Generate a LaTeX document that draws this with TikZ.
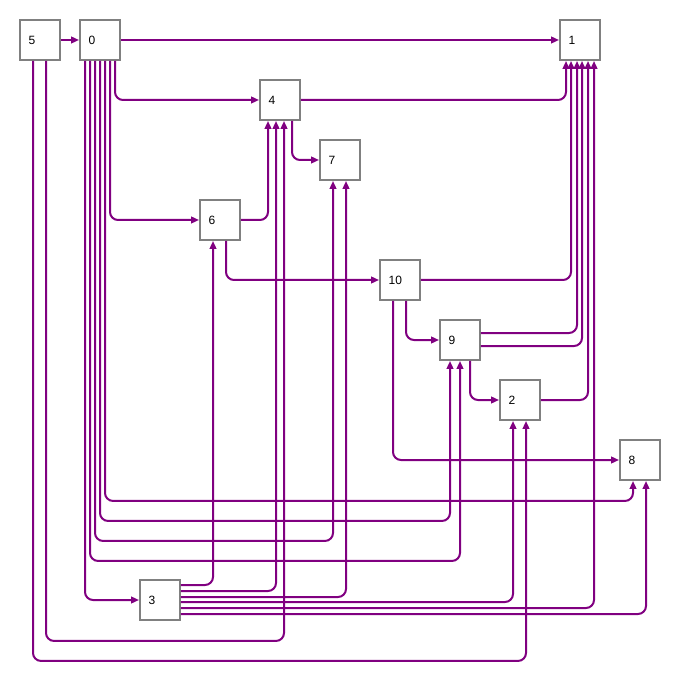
\documentclass[tikz,border=0pt]{standalone}
\usepackage{fontspec}
\setmainfont{Liberation Sans}
\usetikzlibrary{positioning, arrows.meta}
\definecolor{edgepurple}{RGB}{128,0,128}

\begin{document}
\begin{tikzpicture}[
        x=0.75pt, y=-0.75pt,
        >={Triangle[length=6pt, width=5pt]},
        box/.style={
            draw=gray,
            fill=white,
            line width=1.4pt,
            minimum height=30pt,
            text width=17pt,
            inner xsep=6.5pt,
            align=left,
            font=\fontsize{9}{10}\selectfont
        },
        edge/.style={
            ->,
            draw=edgepurple,
            line width=1.5pt,
            rounded corners=6pt
        }
    ]
        \useasboundingbox (0,0) rectangle (680,680);

        % Nodes
        \node[box] (n5) at (40,40) {5};
        \node[box] (n0) at (100,40) {0};
        \node[box] (n1) at (580,40) {1};
        \node[box] (n4) at (280,100) {4};
        \node[box] (n7) at (340,160) {7};
        \node[box] (n6) at (220,220) {6};
        \node[box] (n10) at (400,280) {10};
        \node[box] (n9) at (460,340) {9};
        \node[box] (n2) at (520,400) {2};
        \node[box] (n8) at (640,460) {8};
        \node[box] (n3) at (160,600) {3};

        % Edges from 5 and 0
        \draw[edge] (n5) -- (n0);
        \draw[edge] (n0) -- (n1);
        \draw[edge] ([shift={(15,0)}]n0.south) |- (n4);
        \draw[edge] ([shift={(10,0)}]n0.south) |- (n6);
        \draw[edge] ([shift={(5,0)}]n0.south) -- ++(0,440) -| ([shift={(-7,0)}]n8.south);
        \draw[edge] (n0.south) -- ++(0,460) -| ([shift={(-10,0)}]n9.south);
        \draw[edge] ([shift={(-5,0)}]n0.south) -- ++(0,480) -| ([shift={(-7,0)}]n7.south);
        \draw[edge] ([shift={(-10,0)}]n0.south) -- ++(0,500) -| (n9.south);
        \draw[edge] ([shift={(-15,0)}]n0.south) |- (n3);
        \draw[edge] ([shift={(6,0)}]n5.south) -- ++(0,580) -| ([shift={(4,0)}]n4.south);
        \draw[edge] ([shift={(-7,0)}]n5.south) -- ++(0,600) -| ([shift={(6,0)}]n2.south);

        % Edges from 4 and 6
        \draw[edge] ([shift={(12,0)}]n4.south) |- (n7);
        \draw[edge] (n4) -| ([shift={(-14,0)}]n1.south);
        \draw[edge] (n6) -| ([shift={(-12,0)}]n4.south);
        \draw[edge] ([shift={(6,0)}]n6.south) |- (n10);

        % Edges from 3
        \draw[edge] ([shift={(0,-15)}]n3.east) -| ([shift={(-7,0)}]n6.south);
        \draw[edge] ([shift={(0,-9)}]n3.east) -| ([shift={(-4,0)}]n4.south);
        \draw[edge] ([shift={(0,-3)}]n3.east) -| ([shift={(6,0)}]n7.south);
        \draw[edge] ([shift={(0,2)}]n3.east) -| ([shift={(-7,0)}]n2.south);
        \draw[edge] ([shift={(0,8)}]n3.east) -| ([shift={(14,0)}]n1.south);
        \draw[edge] ([shift={(0,14)}]n3.east) -| ([shift={(6,0)}]n8.south);

        % Edges from 10, 9 and 2
        \draw[edge] (n10) -| ([shift={(-9,0)}]n1.south);
        \draw[edge] ([shift={(6,0)}]n10.south) |- (n9);
        \draw[edge] ([shift={(-7,0)}]n10.south) |- (n8);
        \draw[edge] ([shift={(0,-7)}]n9.east) -| ([shift={(-3,0)}]n1.south);
        \draw[edge] ([shift={(0,6)}]n9.east) -| ([shift={(2,0)}]n1.south);
        \draw[edge] ([shift={(10,0)}]n9.south) |- (n2);
        \draw[edge] (n2) -| ([shift={(8,0)}]n1.south);
    \end{tikzpicture}
\end{document}
